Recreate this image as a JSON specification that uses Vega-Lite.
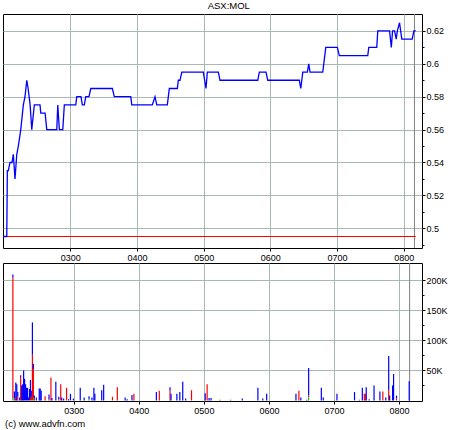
{
  "$schema": "https://vega.github.io/schema/vega-lite/v6.json",
  "background": "white",
  "padding": {"left": 0, "top": 0, "right": 0, "bottom": 0},
  "title": {"text": "ASX:MOL", "fontSize": 9.5, "font": "Liberation Sans", "fontWeight": "normal", "anchor": "middle", "offset": 3, "dx": 5, "color": "black"},
  "config": {
    "font": "Liberation Sans",
    "view": {"stroke": "black", "strokeWidth": 1},
    "axis": {"labelFont": "Liberation Sans", "labelFontSize": 9, "labelColor": "black", "tickColor": "black", "domainColor": "black", "gridColor": "#a9b6b6", "gridWidth": 1, "title": null, "labelOverlap": false, "labelFlush": false}
  },
  "datasets": {
    "marker": [{"t": 489.7}],
    "prevclose": [{"t": 119.5, "p": 0.495}, {"t": 490.9, "p": 0.495}],
    "price": [
      {"t": 119.5, "p": 0.495}, {"t": 122.8, "p": 0.495}, {"t": 123.3, "p": 0.535}, {"t": 124.2, "p": 0.535},
      {"t": 125.7, "p": 0.54}, {"t": 127.5, "p": 0.54}, {"t": 128.7, "p": 0.545}, {"t": 130.2, "p": 0.53},
      {"t": 131.8, "p": 0.545}, {"t": 133.2, "p": 0.55}, {"t": 135.4, "p": 0.56}, {"t": 137.7, "p": 0.575},
      {"t": 139.2, "p": 0.58}, {"t": 140.8, "p": 0.59}, {"t": 142.0, "p": 0.585}, {"t": 143.8, "p": 0.575},
      {"t": 145.3, "p": 0.56}, {"t": 147.6, "p": 0.575}, {"t": 152.7, "p": 0.575}, {"t": 153.4, "p": 0.57},
      {"t": 157.3, "p": 0.57}, {"t": 158.8, "p": 0.56}, {"t": 167.8, "p": 0.56}, {"t": 168.7, "p": 0.575},
      {"t": 170.1, "p": 0.56}, {"t": 173.2, "p": 0.56}, {"t": 174.6, "p": 0.575}, {"t": 184.9, "p": 0.575},
      {"t": 185.8, "p": 0.58}, {"t": 189.6, "p": 0.58}, {"t": 190.8, "p": 0.575}, {"t": 192.6, "p": 0.575},
      {"t": 193.9, "p": 0.58}, {"t": 196.8, "p": 0.58}, {"t": 198.4, "p": 0.585}, {"t": 217.8, "p": 0.585},
      {"t": 219.6, "p": 0.58}, {"t": 234.4, "p": 0.58}, {"t": 235.3, "p": 0.575}, {"t": 253.8, "p": 0.575},
      {"t": 256.2, "p": 0.58}, {"t": 257.8, "p": 0.575}, {"t": 267.3, "p": 0.575}, {"t": 269.1, "p": 0.585},
      {"t": 276.3, "p": 0.585}, {"t": 277.2, "p": 0.59}, {"t": 278.7, "p": 0.59}, {"t": 280.3, "p": 0.595},
      {"t": 299.7, "p": 0.595}, {"t": 302.1, "p": 0.585}, {"t": 303.3, "p": 0.595}, {"t": 313.2, "p": 0.595},
      {"t": 314.7, "p": 0.59}, {"t": 348.7, "p": 0.59}, {"t": 350.1, "p": 0.595}, {"t": 356.1, "p": 0.595},
      {"t": 357.7, "p": 0.59}, {"t": 386.1, "p": 0.59}, {"t": 387.4, "p": 0.585}, {"t": 389.2, "p": 0.595},
      {"t": 393.3, "p": 0.595}, {"t": 394.6, "p": 0.6}, {"t": 395.7, "p": 0.595}, {"t": 407.2, "p": 0.595},
      {"t": 409.9, "p": 0.61}, {"t": 420.3, "p": 0.61}, {"t": 422.1, "p": 0.605}, {"t": 447.7, "p": 0.605},
      {"t": 448.6, "p": 0.61}, {"t": 455.8, "p": 0.61}, {"t": 456.7, "p": 0.62}, {"t": 467.3, "p": 0.62},
      {"t": 468.9, "p": 0.61}, {"t": 470.0, "p": 0.62}, {"t": 471.8, "p": 0.62}, {"t": 473.3, "p": 0.615},
      {"t": 474.3, "p": 0.62}, {"t": 476.3, "p": 0.625}, {"t": 478.3, "p": 0.615}, {"t": 487.7, "p": 0.615},
      {"t": 489.2, "p": 0.62}, {"t": 490.9, "p": 0.62}
    ],
    "volume": [
      {"t": 123.9, "k": "sell", "v": 201000}, {"t": 123.9, "k": "unknown", "v": 4000}, {"t": 123.9, "k": "buy", "v": 5000},
      {"t": 125.3, "k": "buy", "v": 12000}, {"t": 125.3, "k": "sell", "v": 3000},
      {"t": 126.6, "k": "buy", "v": 30000},
      {"t": 127.5, "k": "buy", "v": 27000},
      {"t": 128.4, "k": "buy", "v": 8000}, {"t": 128.4, "k": "sell", "v": 6000},
      {"t": 130.2, "k": "buy", "v": 5000},
      {"t": 131.1, "k": "sell", "v": 39000}, {"t": 131.1, "k": "buy", "v": 3000},
      {"t": 132.0, "k": "buy", "v": 25000},
      {"t": 132.9, "k": "buy", "v": 27000},
      {"t": 133.8, "k": "buy", "v": 50000},
      {"t": 134.7, "k": "buy", "v": 36000},
      {"t": 135.6, "k": "buy", "v": 27000},
      {"t": 136.5, "k": "buy", "v": 21000},
      {"t": 137.4, "k": "buy", "v": 21000},
      {"t": 138.3, "k": "buy", "v": 5000},
      {"t": 139.2, "k": "buy", "v": 19000},
      {"t": 140.1, "k": "sell", "v": 4000}, {"t": 140.1, "k": "buy", "v": 30000},
      {"t": 141.0, "k": "sell", "v": 6000}, {"t": 141.0, "k": "buy", "v": 10000},
      {"t": 141.9, "k": "sell", "v": 76000}, {"t": 141.9, "k": "buy", "v": 54000},
      {"t": 142.8, "k": "sell", "v": 49000}, {"t": 142.8, "k": "unknown", "v": 3000}, {"t": 142.8, "k": "buy", "v": 9000},
      {"t": 143.7, "k": "sell", "v": 3000}, {"t": 143.7, "k": "buy", "v": 5000},
      {"t": 145.5, "k": "buy", "v": 5000},
      {"t": 148.2, "k": "buy", "v": 20000},
      {"t": 149.1, "k": "buy", "v": 20000},
      {"t": 150.0, "k": "buy", "v": 16000},
      {"t": 153.6, "k": "sell", "v": 7000},
      {"t": 157.2, "k": "sell", "v": 2000}, {"t": 157.2, "k": "buy", "v": 8000},
      {"t": 159.0, "k": "sell", "v": 38000},
      {"t": 159.9, "k": "buy", "v": 4000},
      {"t": 163.5, "k": "buy", "v": 31000},
      {"t": 166.2, "k": "sell", "v": 2000}, {"t": 166.2, "k": "buy", "v": 4000},
      {"t": 168.0, "k": "sell", "v": 27000},
      {"t": 168.9, "k": "buy", "v": 5000},
      {"t": 170.7, "k": "buy", "v": 3000},
      {"t": 173.4, "k": "sell", "v": 21000},
      {"t": 175.2, "k": "buy", "v": 2000},
      {"t": 177.0, "k": "buy", "v": 11000},
      {"t": 179.7, "k": "buy", "v": 3000},
      {"t": 186.0, "k": "buy", "v": 21000},
      {"t": 189.6, "k": "buy", "v": 5000},
      {"t": 194.1, "k": "unknown", "v": 2000}, {"t": 194.1, "k": "buy", "v": 5000},
      {"t": 196.8, "k": "buy", "v": 5000},
      {"t": 198.6, "k": "buy", "v": 21000},
      {"t": 199.5, "k": "buy", "v": 11000},
      {"t": 205.8, "k": "buy", "v": 17000},
      {"t": 207.6, "k": "buy", "v": 26000},
      {"t": 215.7, "k": "sell", "v": 6000},
      {"t": 220.2, "k": "sell", "v": 22000},
      {"t": 227.4, "k": "buy", "v": 5000},
      {"t": 229.2, "k": "buy", "v": 2000},
      {"t": 233.7, "k": "buy", "v": 9000},
      {"t": 235.5, "k": "sell", "v": 11000},
      {"t": 256.2, "k": "buy", "v": 14000},
      {"t": 258.9, "k": "sell", "v": 16000},
      {"t": 268.8, "k": "sell", "v": 16000}, {"t": 268.8, "k": "buy", "v": 6000},
      {"t": 269.7, "k": "buy", "v": 11000},
      {"t": 275.1, "k": "buy", "v": 11000},
      {"t": 277.8, "k": "buy", "v": 14000},
      {"t": 280.5, "k": "buy", "v": 31000},
      {"t": 283.2, "k": "buy", "v": 3000},
      {"t": 288.6, "k": "sell", "v": 17000},
      {"t": 301.2, "k": "buy", "v": 12000},
      {"t": 303.0, "k": "sell", "v": 27000},
      {"t": 304.8, "k": "buy", "v": 4000},
      {"t": 306.6, "k": "buy", "v": 4000},
      {"t": 314.7, "k": "sell", "v": 1000},
      {"t": 324.6, "k": "buy", "v": 1000},
      {"t": 335.4, "k": "buy", "v": 3000},
      {"t": 349.8, "k": "buy", "v": 21000},
      {"t": 354.3, "k": "buy", "v": 3000},
      {"t": 357.9, "k": "buy", "v": 11000},
      {"t": 384.9, "k": "buy", "v": 11000},
      {"t": 387.6, "k": "sell", "v": 16000},
      {"t": 389.4, "k": "buy", "v": 5000},
      {"t": 394.8, "k": "buy", "v": 1000},
      {"t": 396.6, "k": "sell", "v": 3000}, {"t": 396.6, "k": "unknown", "v": 5000}, {"t": 396.6, "k": "buy", "v": 46000},
      {"t": 408.3, "k": "buy", "v": 21000},
      {"t": 410.1, "k": "buy", "v": 5000},
      {"t": 422.7, "k": "buy", "v": 11000},
      {"t": 438.9, "k": "buy", "v": 14000},
      {"t": 443.4, "k": "buy", "v": 1000},
      {"t": 446.1, "k": "buy", "v": 21000},
      {"t": 447.9, "k": "sell", "v": 11000},
      {"t": 448.8, "k": "sell", "v": 11000},
      {"t": 449.7, "k": "buy", "v": 22000},
      {"t": 452.4, "k": "buy", "v": 2000},
      {"t": 456.9, "k": "buy", "v": 25000},
      {"t": 462.3, "k": "buy", "v": 15000},
      {"t": 465.0, "k": "sell", "v": 15000},
      {"t": 467.7, "k": "buy", "v": 5000},
      {"t": 470.4, "k": "sell", "v": 17000}, {"t": 470.4, "k": "buy", "v": 57000},
      {"t": 471.3, "k": "buy", "v": 8000},
      {"t": 474.0, "k": "buy", "v": 25000},
      {"t": 474.9, "k": "buy", "v": 44000},
      {"t": 477.6, "k": "sell", "v": 3000}, {"t": 477.6, "k": "buy", "v": 5000},
      {"t": 489.3, "k": "buy", "v": 32000}
    ]
  },
  "bounds": "flush",
  "spacing": 15,
  "vconcat": [
    {
      "width": 419,
      "height": 234,
      "layer": [
        {
          "data": {"name": "marker"},
          "mark": {"type": "rule", "color": "#808080", "strokeWidth": 1},
          "encoding": {"x": {"field": "t", "type": "quantitative", "scale": {"domain": [119.4, 496.5], "nice": false, "zero": false}}}
        },
        {
          "data": {"name": "prevclose"},
          "mark": {"type": "line", "color": "#ff0000", "strokeWidth": 1.2},
          "encoding": {
            "x": {"field": "t", "type": "quantitative", "scale": {"domain": [119.4, 496.5], "nice": false, "zero": false},
                  "axis": {"orient": "bottom", "values": [180, 240, 300, 360, 420, 480], "tickCount": 100, "labelExpr": "'0' + toString(datum.value/60) + '00'", "grid": true, "tickSize": 3, "labelPadding": 2, "domain": false}},
            "y": {"field": "p", "type": "quantitative", "scale": {"domain": [0.488, 0.6303], "nice": false, "zero": false},
                  "axis": {"orient": "right", "values": [0.49, 0.5, 0.51, 0.52, 0.53, 0.54, 0.55, 0.56, 0.57, 0.58, 0.59, 0.6, 0.61, 0.62], "tickCount": 100,
                           "labelExpr": "round(datum.value*100) % 2 == 0 ? format(datum.value, '.2~f') : ''",
                           "tickSize": {"condition": {"test": "round(datum.value*100) % 2 == 0", "value": 3}, "value": 2},
                           "gridOpacity": {"condition": {"test": "round(datum.value*100) % 2 == 0", "value": 1}, "value": 0},
                           "grid": true, "labelPadding": 1, "domain": false}}
          }
        },
        {
          "data": {"name": "price"},
          "mark": {"type": "line", "color": "#0000ff", "strokeWidth": 1.3},
          "encoding": {
            "x": {"field": "t", "type": "quantitative"},
            "y": {"field": "p", "type": "quantitative"}
          }
        }
      ]
    },
    {
      "width": 419,
      "height": 138,
      "title": {"text": "(c) www.advfn.com", "orient": "bottom", "anchor": "start", "fontSize": 9.5, "fontWeight": "normal", "offset": 4, "dx": 2, "color": "black", "font": "Liberation Sans"},
      "layer": [
        {
          "data": {"name": "marker"},
          "mark": {"type": "rule", "color": "#808080", "strokeWidth": 1},
          "encoding": {"x": {"field": "t", "type": "quantitative", "scale": {"domain": [119.4, 496.5], "nice": false, "zero": false}}}
        },
        {
          "data": {"name": "volume"},
          "mark": {"type": "bar", "size": 1.2},
          "encoding": {
            "x": {"field": "t", "type": "quantitative", "scale": {"domain": [119.4, 496.5], "nice": false, "zero": false},
                  "axis": {"orient": "bottom", "values": [180, 240, 300, 360, 420, 480], "tickCount": 100, "labelExpr": "'0' + toString(datum.value/60) + '00'", "grid": true, "tickSize": 3, "labelPadding": 2, "domain": false}},
            "y": {"field": "v", "type": "quantitative", "stack": "zero", "scale": {"domain": [-1000, 229000], "nice": false, "zero": false},
                  "axis": {"orient": "right", "values": [25000, 50000, 75000, 100000, 125000, 150000, 175000, 200000], "tickCount": 100,
                           "labelExpr": "datum.value % 50000 == 0 ? toString(datum.value/1000) + 'K' : ''",
                           "tickSize": {"condition": {"test": "datum.value % 50000 == 0", "value": 3}, "value": 2},
                           "gridOpacity": {"condition": {"test": "datum.value % 50000 == 0", "value": 1}, "value": 0},
                           "grid": true, "labelPadding": 1, "domain": false}},
            "color": {"field": "k", "type": "nominal", "sort": ["sell", "unknown", "buy"], "scale": {"domain": ["sell", "unknown", "buy"], "range": ["#ff0000", "#00c000", "#0000ff"]}, "legend": null}
          }
        }
      ]
    }
  ]
}
